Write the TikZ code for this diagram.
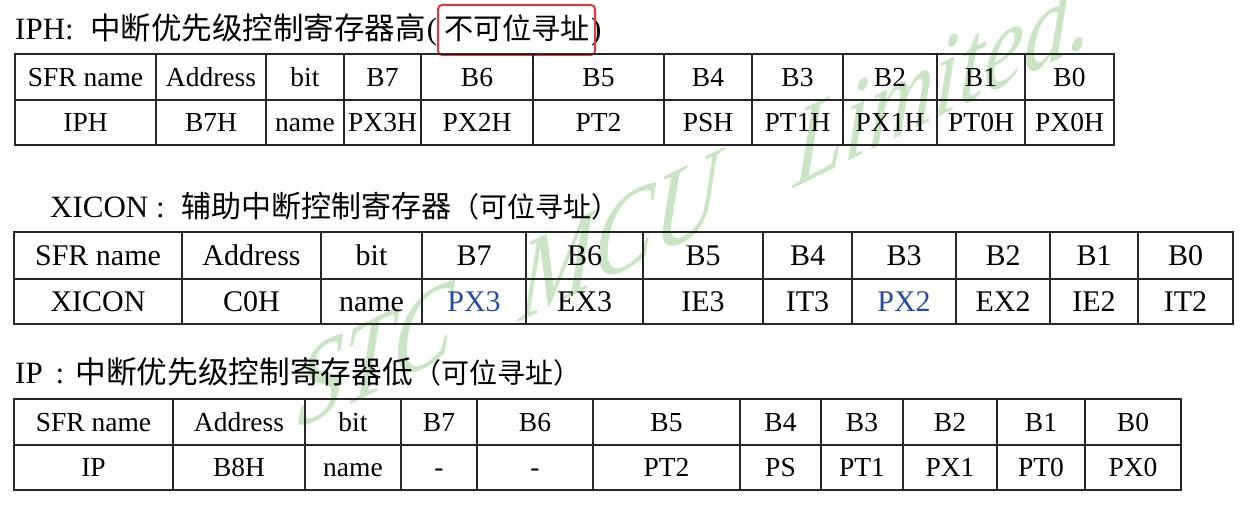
\documentclass[tikz,border=0pt]{standalone}
\usepackage{fontspec}
\setmainfont{Liberation Serif}
\newfontfamily\cjk{Noto Sans CJK SC}

\definecolor{wmgreen}{RGB}{202,229,195}
\definecolor{pxblue}{RGB}{38,76,165}
\definecolor{boxred}{RGB}{235,52,58}

\tikzset{
    tabline/.style = {line width = 1.3pt, draw = black!85},
    title/.style = {anchor = base west, inner sep = 0pt, font = \fontsize{31}{36}\selectfont},
    cella/.style = {anchor = base, inner sep = 0pt, font = \fontsize{27.5}{32}\selectfont},
    cellb/.style = {anchor = base, inner sep = 0pt, font = \fontsize{30}{36}\selectfont},
    wmark/.style = {transform shape, anchor = base west, inner sep = 0pt, text = wmgreen,
        font = \fontsize{100}{120}\selectfont\itshape}
}

\begin{document}
\begin{tikzpicture}[x = 1pt, y = 1pt]
        \useasboundingbox (0, 0) rectangle (1260, 505);

        % watermark
        \begin{scope}[shift = {(297, 75)}, cm = {0.899, 0.438, 0.04, 1.155, (0, 0)}]
            \node (wmstc) at (0, 0) [wmark] {STC};
            \node (wmmcu) at (246, 0) [wmark] {MCU};
            \node (wmltd) at (552, 0) [wmark] {Limited.};
        \end{scope}

        % IPH
        \node (iphtitle) at (15, 465) [title] {IPH:\hspace{16.5pt}{\cjk\fontsize{30.5}{36}\selectfont 中断优先级控制寄存器高}\hspace{1pt}(\hspace{7pt}{\cjk\fontsize{29.2}{36}\selectfont 不可位寻址}\hspace{1pt})};
        \draw [boxred, line width = 2pt, rounded corners = 4pt] (438, 450) rectangle (595, 500);
        \draw [tabline] (15, 360) rectangle (1114, 451);
        \draw [tabline] (15, 405) -- (1114, 405);
        \draw [tabline] (156, 360) -- (156, 451) (266, 360) -- (266, 451) (344, 360) -- (344, 451)
            (421, 360) -- (421, 451) (533, 360) -- (533, 451) (664, 360) -- (664, 451)
            (752, 360) -- (752, 451) (843, 360) -- (843, 451) (937, 360) -- (937, 451)
            (1025, 360) -- (1025, 451);

        \node (iphh1) at (85.5, 418.5) [cella] {SFR name};
        \node (iphh2) at (211, 418.5) [cella] {Address};
        \node (iphh3) at (305, 418.5) [cella] {bit};
        \node (iphh4) at (382.5, 418.5) [cella] {B7};
        \node (iphh5) at (477, 418.5) [cella] {B6};
        \node (iphh6) at (598.5, 418.5) [cella] {B5};
        \node (iphh7) at (708, 418.5) [cella] {B4};
        \node (iphh8) at (797.5, 418.5) [cella] {B3};
        \node (iphh9) at (890, 418.5) [cella] {B2};
        \node (iphh10) at (981, 418.5) [cella] {B1};
        \node (iphh11) at (1069.5, 418.5) [cella] {B0};
        \node (iphv1) at (85.5, 373) [cella] {IPH};
        \node (iphv2) at (211, 373) [cella] {B7H};
        \node (iphv3) at (305, 373) [cella] {name};
        \node (iphv4) at (382.5, 373) [cella] {PX3H};
        \node (iphv5) at (477, 373) [cella] {PX2H};
        \node (iphv6) at (598.5, 373) [cella] {PT2};
        \node (iphv7) at (708, 373) [cella] {PSH};
        \node (iphv8) at (797.5, 373) [cella] {PT1H};
        \node (iphv9) at (890, 373) [cella] {PX1H};
        \node (iphv10) at (981, 373) [cella] {PT0H};
        \node (iphv11) at (1069.5, 373) [cella] {PX0H};

        % XICON
        \node (xicontitle) at (50, 287) [title] {XICON :\hspace{17pt}{\cjk\fontsize{30}{36}\selectfont 辅助中断控制寄存器}{\cjk\fontsize{28}{34}\selectfont （可位寻址）}};
        \draw [tabline] (14, 181) rectangle (1233, 273);
        \draw [tabline] (14, 226) -- (1233, 226);
        \draw [tabline] (182, 181) -- (182, 273) (321, 181) -- (321, 273) (422, 181) -- (422, 273)
            (526, 181) -- (526, 273) (643, 181) -- (643, 273) (763, 181) -- (763, 273)
            (852, 181) -- (852, 273) (956, 181) -- (956, 273) (1050, 181) -- (1050, 273)
            (1138, 181) -- (1138, 273);

        \node (xich1) at (98, 239.5) [cellb] {SFR name};
        \node (xich2) at (251.5, 239.5) [cellb] {Address};
        \node (xich3) at (371.5, 239.5) [cellb] {bit};
        \node (xich4) at (474, 239.5) [cellb] {B7};
        \node (xich5) at (584.5, 239.5) [cellb] {B6};
        \node (xich6) at (703, 239.5) [cellb] {B5};
        \node (xich7) at (807.5, 239.5) [cellb] {B4};
        \node (xich8) at (904, 239.5) [cellb] {B3};
        \node (xich9) at (1003, 239.5) [cellb] {B2};
        \node (xich10) at (1094, 239.5) [cellb] {B1};
        \node (xich11) at (1185.5, 239.5) [cellb] {B0};
        \node (xicv1) at (98, 193.5) [cellb] {XICON};
        \node (xicv2) at (251.5, 193.5) [cellb] {C0H};
        \node (xicv3) at (371.5, 193.5) [cellb] {name};
        \node (xicv4) at (474, 193.5) [cellb, text = pxblue] {PX3};
        \node (xicv5) at (584.5, 193.5) [cellb] {EX3};
        \node (xicv6) at (703, 193.5) [cellb] {IE3};
        \node (xicv7) at (807.5, 193.5) [cellb] {IT3};
        \node (xicv8) at (904, 193.5) [cellb, text = pxblue] {PX2};
        \node (xicv9) at (1003, 193.5) [cellb] {EX2};
        \node (xicv10) at (1094, 193.5) [cellb] {IE2};
        \node (xicv11) at (1185.5, 193.5) [cellb] {IT2};

        % IP
        \node (iptitle) at (15, 121) [title] {IP\hspace{13pt}:\hspace{11pt}{\cjk\fontsize{30.7}{36}\selectfont 中断优先级控制寄存器低}{\cjk\fontsize{28}{34}\selectfont （可位寻址）}};
        \draw [tabline] (14, 15) rectangle (1181, 106);
        \draw [tabline] (14, 60) -- (1181, 60);
        \draw [tabline] (173, 15) -- (173, 106) (305, 15) -- (305, 106) (401, 15) -- (401, 106)
            (477, 15) -- (477, 106) (593, 15) -- (593, 106) (740, 15) -- (740, 106)
            (821, 15) -- (821, 106) (903, 15) -- (903, 106) (997, 15) -- (997, 106)
            (1085, 15) -- (1085, 106);

        \node (iph1) at (93.5, 73.5) [cella] {SFR name};
        \node (iph2) at (239, 73.5) [cella] {Address};
        \node (iph3) at (353, 73.5) [cella] {bit};
        \node (iph4) at (439, 73.5) [cella] {B7};
        \node (iph5) at (535, 73.5) [cella] {B6};
        \node (iph6) at (666.5, 73.5) [cella] {B5};
        \node (iph7) at (780.5, 73.5) [cella] {B4};
        \node (iph8) at (862, 73.5) [cella] {B3};
        \node (iph9) at (950, 73.5) [cella] {B2};
        \node (iph10) at (1041, 73.5) [cella] {B1};
        \node (iph11) at (1133, 73.5) [cella] {B0};
        \node (ipv1) at (93.5, 28) [cella] {IP};
        \node (ipv2) at (239, 28) [cella] {B8H};
        \node (ipv3) at (353, 28) [cella] {name};
        \node (ipv4) at (439, 28) [cella] {-};
        \node (ipv5) at (535, 28) [cella] {-};
        \node (ipv6) at (666.5, 28) [cella] {PT2};
        \node (ipv7) at (780.5, 28) [cella] {PS};
        \node (ipv8) at (862, 28) [cella] {PT1};
        \node (ipv9) at (950, 28) [cella] {PX1};
        \node (ipv10) at (1041, 28) [cella] {PT0};
        \node (ipv11) at (1133, 28) [cella] {PX0};
\end{tikzpicture}
\end{document}
